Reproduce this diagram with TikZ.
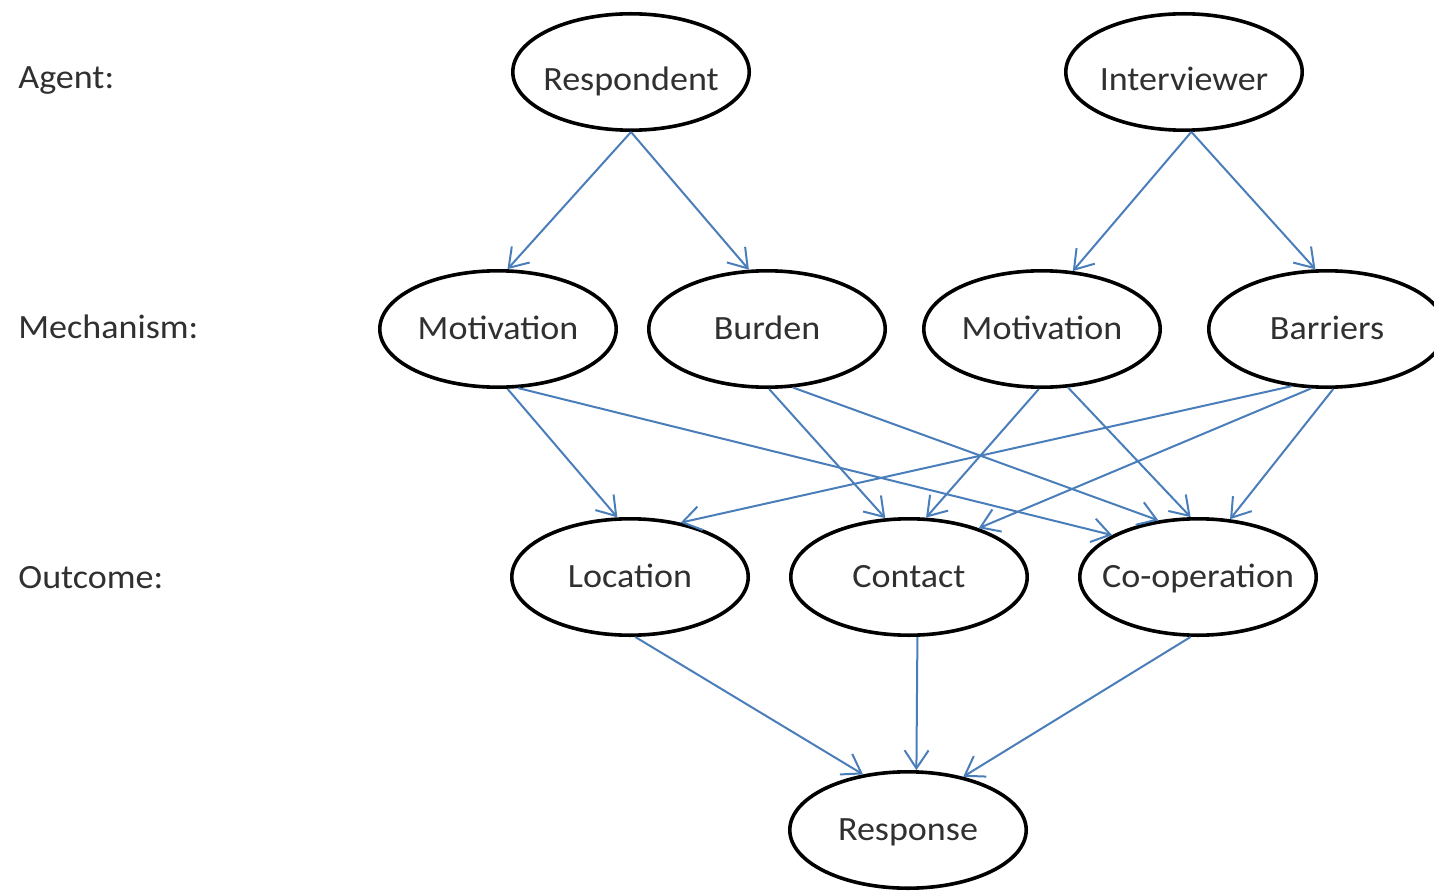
\documentclass[tikz,border=0pt]{standalone}
\usepackage{fontspec}
\setmainfont{Carlito}[FakeStretch=1.06]
\usetikzlibrary{shapes.geometric,arrows.meta}
\definecolor{linkblue}{HTML}{4A7EBB}
\definecolor{inktext}{HTML}{303030}
\newcommand{\nodetext}[1]{\makebox[0pt]{#1}}
\begin{document}
\begin{tikzpicture}[x=0.5pt,y=-0.5pt,
  state/.style={ellipse,draw=black,line width=1.8pt,fill=white,
    minimum width=118.2pt,minimum height=58.2pt,inner sep=0pt,
    font=\fontsize{17}{19}\selectfont,text=inktext,
    text height=10.9pt,text depth=0pt},
  agentstate/.style={state,text height=18.9pt},
  rowlabel/.style={anchor=base west,inner sep=0pt,
    font=\fontsize{17}{19}\selectfont,text=inktext},
  link/.style={draw=linkblue,line width=1pt,
    -{Straight Barb[length=9pt,width=12pt,line width=1pt]}}]
\clip (0,0) rectangle (1434,893);
\fill[white] (0,0) rectangle (1434,893);

% row captions
\node[rowlabel] (lagent) at (18,89) {Agent:};
\node[rowlabel] (lmech)  at (18,338) {Mechanism:};
\node[rowlabel] (lout)   at (18,588) {Outcome:};

% agents
\node[agentstate] (resp) at (631,72) {\nodetext{Respondent}};
\node[agentstate] (intv) at (1184,72) {\nodetext{Interviewer}};

% mechanisms
\node[state] (mot1) at (498,329) {\nodetext{Motivation}};
\node[state] (burd) at (767,329) {\nodetext{Burden}};
\node[state] (mot2) at (1042,329) {\nodetext{Motivation}};
\node[state] (barr) at (1327,329) {\nodetext{Barriers}};

% outcomes
\node[state] (loc)  at (630,577) {\nodetext{Location}};
\node[state] (cont) at (909,577) {\nodetext{Contact}};
\node[state] (coop) at (1198,577) {\nodetext{Co-operation}};

% final response
\node[state] (resn) at (908,830) {\nodetext{Response}};

% agent -> mechanism
\draw[link] (resp.south) -- (mot1.81.4);
\draw[link] (resp.south) -- (burd.107.8);
\draw[link] (intv.-83.8) -- (mot2.62.7);
\draw[link] (intv.-83.8) -- (barr.101.5);

% mechanism -> outcome
\draw[link] (mot1.-81.4) -- (loc.102.3);
\draw[link] (mot1.-71.3) -- (coop.154.6);
\draw[link] (burd.-88.6) -- (cont.112.2);
\draw[link] (burd.-66.1) -- (coop.125.2);
\draw[link] (mot2.-93.8) -- (cont.74.9);
\draw[link] (mot2.-66.9) -- (coop.97.2);
\draw[link] (barr.-122.2) -- (loc.47.5);
\draw[link] (barr.-105.97) -- (cont.35.4);
\draw[link] (barr.-84.3) -- (coop.61.0);

% outcome -> response
\draw[link] (loc.-85.2) -- (resn.129.7);
\draw[link] (cont.-82.4) -- (resn.82.4);
\draw[link] (coop.-97.6) -- (resn.44.8);
\end{tikzpicture}
\end{document}
